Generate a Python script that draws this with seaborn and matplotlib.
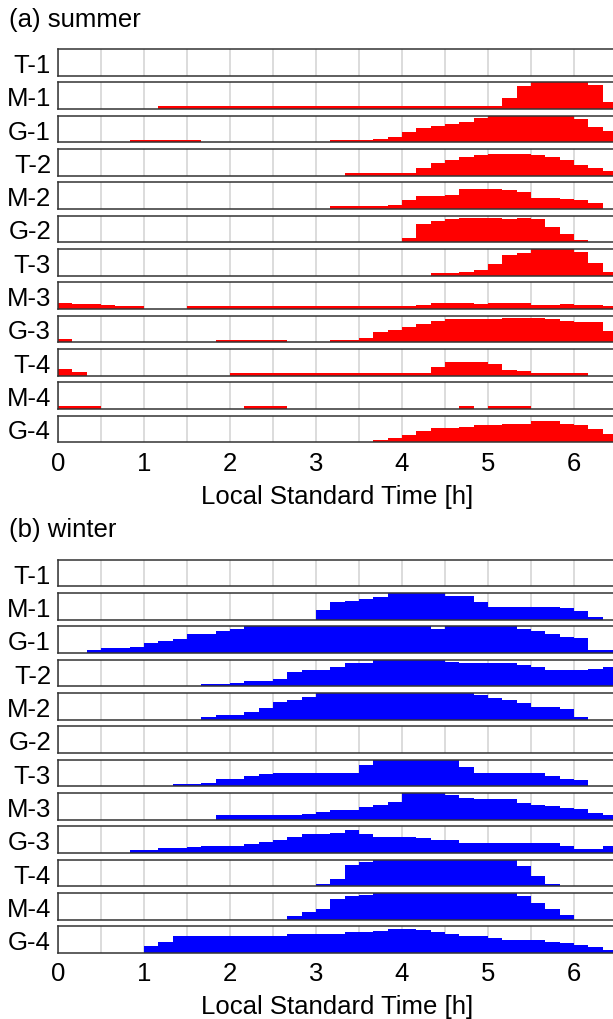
import numpy as np
import pandas as pd
import matplotlib
matplotlib.use("Agg")
import matplotlib.pyplot as plt
import seaborn as sns

# ---- data: occurrence ratio per 10-minute bin (0:00 - 6:30 LST) ----
stations = ["T-1", "M-1", "G-1", "T-2", "M-2", "G-2",
            "T-3", "M-3", "G-3", "T-4", "M-4", "G-4"]
bin_minutes = 10
n_bins = 39
tick_hours = [0, 1, 2, 3, 4, 5, 6]

summer_T1 = [0] * 39
summer_M1 = [0] * 7 + [0.1] * 24 + [0.43, 0.86, 1, 1, 1, 1, 0.9, 0.27]
summer_G1 = ([0] * 5 + [0.1] * 5 + [0] * 9 + [0.1] * 3 +
             [0.13, 0.19, 0.37, 0.54, 0.62, 0.69, 0.77, 0.92] + [1] * 6 + [0.87, 0.59, 0.44])
summer_T2 = ([0] * 20 + [0.1] * 5 +
             [0.27, 0.49, 0.59, 0.69, 0.76, 0.81, 0.81, 0.81, 0.76, 0.69, 0.59, 0.40, 0.27, 0.16])
summer_M2 = ([0] * 19 + [0.1] * 4 +
             [0.14, 0.33, 0.48, 0.48, 0.54, 0.75, 0.75, 0.75, 0.70, 0.65, 0.43, 0.43, 0.38, 0.33, 0.22, 0])
summer_G2 = [0] * 24 + [0.18, 0.70, 0.80, 0.89, 0.92, 0.92, 0.92, 0.87, 0.92, 0.87, 0.58, 0.32, 0.1, 0, 0]
summer_T3 = [0] * 26 + [0.1, 0.1, 0.14, 0.23, 0.45, 0.76, 0.86, 1, 1, 1, 0.9, 0.49, 0.12]
summer_M3 = ([0.24, 0.19, 0.19, 0.14, 0.11, 0.11] + [0] * 3 + [0.1] * 16 +
             [0.14, 0.21, 0.21, 0.21, 0.17, 0.21, 0.21, 0.21, 0.14, 0.14, 0.17, 0.14, 0.14, 0.11])
summer_G3 = ([0.11] + [0] * 10 + [0.1] * 5 + [0] * 3 +
             [0.1, 0.1, 0.18, 0.38, 0.48, 0.59, 0.67, 0.80, 0.86, 0.86, 0.86, 0.86,
              0.91, 0.91, 0.91, 0.86, 0.81, 0.75, 0.75, 0.42])
summer_T4 = ([0.24, 0.12] + [0] * 10 + [0.1] * 14 +
             [0.32, 0.5, 0.5, 0.5, 0.42, 0.22, 0.17, 0.11, 0.11, 0.11, 0.11, 0, 0])
summer_M4 = [0.1] * 3 + [0] * 10 + [0.1] * 3 + [0] * 12 + [0.1, 0] + [0.1] * 3 + [0] * 6
summer_G4 = ([0] * 22 +
             [0.1, 0.18, 0.27, 0.42, 0.54, 0.54, 0.59, 0.65, 0.65, 0.70, 0.70,
              0.81, 0.81, 0.70, 0.65, 0.49, 0.32])

winter_T1 = [0] * 39
winter_M1 = ([0] * 18 + [0.38, 0.65, 0.72, 0.77, 0.87] + [1] * 4 +
             [0.88, 0.88, 0.65] + [0.49] * 5 + [0.45, 0.33, 0.11, 0])
winter_G1 = ([0, 0, 0.13, 0.19, 0.19, 0.24, 0.39, 0.46, 0.54, 0.71, 0.71, 0.81, 0.89] +
             [1] * 13 + [0.9] + [1] * 5 + [0.89, 0.82, 0.72, 0.62, 0.56, 0.13, 0.1])
winter_T2 = ([0] * 10 + [0.1, 0.1, 0.12, 0.19, 0.19, 0.29, 0.54, 0.61, 0.61, 0.71, 0.87, 0.87] +
             [1] * 5 + [0.91] + [0.86] * 4 + [0.81, 0.71, 0.62, 0.62, 0.62, 0.66, 0.71])
winter_M2 = ([0] * 10 + [0.1, 0.19, 0.19, 0.29, 0.44, 0.65, 0.72, 0.86] + [1] * 11 +
             [0.91, 0.81, 0.72, 0.61, 0.49, 0.49, 0.39, 0.11, 0, 0])
winter_G2 = [0] * 39
winter_T3 = ([0] * 8 + [0.1, 0.1, 0.13, 0.28, 0.28, 0.38, 0.46] + [0.49] * 6 + [0.81] +
             [1] * 6 + [0.71] + [0.49] * 5 + [0.38, 0.28, 0.23, 0, 0])
winter_M3 = ([0] * 11 + [0.16] * 6 + [0.22, 0.29, 0.38, 0.38, 0.49, 0.55, 0.65] + [1] * 3 +
             [0.94, 0.83, 0.77, 0.77, 0.77, 0.64, 0.54, 0.50, 0.44, 0.41, 0.27, 0.16])
winter_G3 = ([0] * 5 + [0.1, 0.1, 0.19, 0.19, 0.23, 0.28, 0.28, 0.28,
                        0.34, 0.41, 0.49, 0.61, 0.70, 0.70, 0.76, 0.86, 0.71,
                        0.61, 0.61, 0.61, 0.57, 0.49, 0.49] + [0.37] * 7 + [0.26, 0.17, 0.17, 0.28])
winter_T4 = [0] * 18 + [0.1, 0.28, 0.81, 0.92] + [1] * 10 + [0.76, 0.38, 0.1] + [0] * 4
winter_M4 = [0] * 16 + [0.13, 0.27, 0.41, 0.78, 0.88, 0.94] + [1] * 10 + [0.88, 0.61, 0.39, 0.19] + [0] * 3
winter_G4 = ([0] * 6 + [0.28, 0.40] + [0.62] * 8 + [0.72] * 4 +
             [0.77, 0.77, 0.83, 0.90, 0.90, 0.85, 0.78, 0.72, 0.62, 0.62, 0.56,
              0.50, 0.50, 0.50, 0.42, 0.37, 0.30, 0.22, 0.1])

summer = [summer_T1, summer_M1, summer_G1, summer_T2, summer_M2, summer_G2,
          summer_T3, summer_M3, summer_G3, summer_T4, summer_M4, summer_G4]
winter = [winter_T1, winter_M1, winter_G1, winter_T2, winter_M2, winter_G2,
          winter_T3, winter_M3, winter_G3, winter_T4, winter_M4, winter_G4]

# ---- style ----
sns.set_theme(style="white")
plt.rcParams["font.family"] = ["Liberation Sans", "DejaVu Sans"]
plt.rcParams.update({"text.color": "black", "axes.labelcolor": "black",
                     "xtick.color": "black", "ytick.color": "black"})
FS = 18.5
SPINE = "#333333"
GRID = "#d9d9d9"

W, H = 613, 1020
fig = plt.figure(figsize=(W / 100, H / 100), dpi=100)

span_h = n_bins * bin_minutes / 60.0
centers = (np.arange(n_bins) + 0.5) * bin_minutes / 60.0

AX_LEFT = 58
AX_WIDTH = 559
ROW_PITCH = 33.33
ROW_H = 26.7


def add_row(top):
    return fig.add_axes([AX_LEFT / W, 1 - (top + ROW_H) / H, AX_WIDTH / W, ROW_H / H])


def draw_panel(series, first_top, color, title, title_y):
    fig.text(9 / W, 1 - title_y / H, title, fontsize=FS, ha="left", va="center")
    for i, (name, vals) in enumerate(zip(stations, series)):
        ax = add_row(first_top + i * ROW_PITCH)
        df = pd.DataFrame({"hour": centers, "ratio": np.asarray(vals, dtype=float)})
        sns.histplot(data=df, x="hour", weights="ratio", bins=n_bins, binrange=(0, span_h),
                     element="step", fill=True, color=color, alpha=1, linewidth=0,
                     ax=ax, zorder=2)
        ax.set_xlim(0, 6.5)
        ax.set_ylim(0, 1)
        ax.set_xticks(tick_hours)
        ax.set_xticks(np.arange(0.5, 6.6, 1.0), minor=True)
        ax.grid(True, axis="x", which="both", color=GRID, linewidth=1.3, zorder=0)
        ax.set_axisbelow(True)
        ax.set_yticks([0.5])
        ax.set_yticklabels([name])
        ax.set_ylabel("")
        ax.tick_params(axis="y", length=0, pad=5, labelsize=FS)
        ax.tick_params(axis="x", which="both", length=0, pad=6, labelsize=FS)
        for sp in ax.spines.values():
            sp.set_visible(True)
            sp.set_color(SPINE)
            sp.set_linewidth(1.1)
            sp.set_zorder(3)
        if i == len(stations) - 1:
            ax.set_xlabel("Local Standard Time [h]", fontsize=FS, labelpad=6.5)
        else:
            ax.set_xlabel("")
            ax.tick_params(axis="x", labelbottom=False)


draw_panel(summer, 50.0, "#ff0000", "(a) summer", 20)
draw_panel(winter, 560.7, "#0000ff", "(b) winter", 530)

fig.savefig("out.png", dpi=100)
